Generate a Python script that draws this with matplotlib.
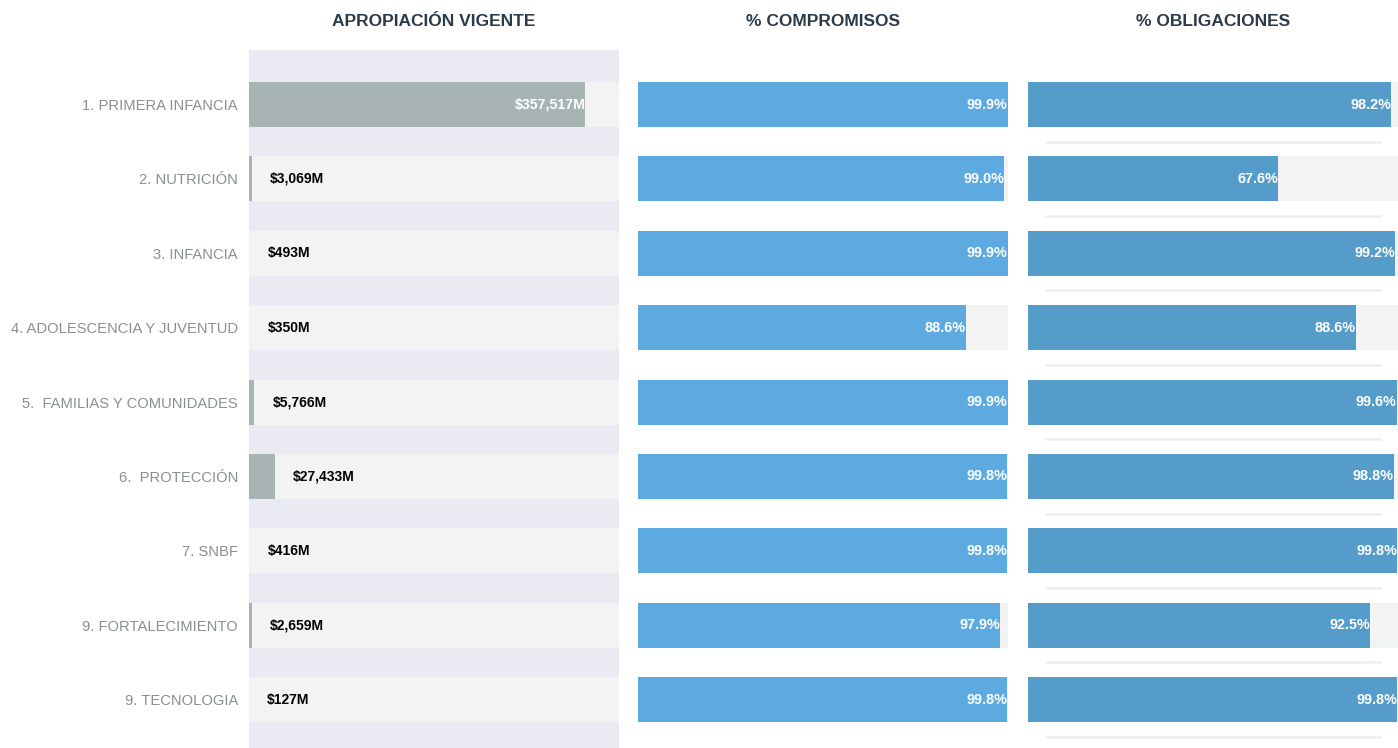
import numpy as np
import matplotlib
matplotlib.use('Agg')
import matplotlib.pyplot as plt

plt.rcParams['font.family'] = ['Liberation Sans', 'DejaVu Sans']

categorias = ['1. PRIMERA INFANCIA', '2. NUTRICIÓN', '3. INFANCIA',
              '4. ADOLESCENCIA Y JUVENTUD', '5.  FAMILIAS Y COMUNIDADES',
              '6.  PROTECCIÓN', '7. SNBF', '9. FORTALECIMIENTO', '9. TECNOLOGIA']
apropiacion = [357517, 3069, 493, 350, 5766, 27433, 416, 2659, 127]  # millones
compromisos = [99.9, 99.0, 99.9, 88.6, 99.9, 99.8, 99.8, 97.9, 99.8]
obligaciones = [98.2, 67.6, 99.2, 88.6, 99.6, 98.8, 99.8, 92.5, 99.8]

W, H = 1398, 748
fig = plt.figure(figsize=(W / 100, H / 100), dpi=100)

band = '#F2F3F3'
n = len(categorias)
y = np.arange(n)
alto = 0.605

def ejes(x0, x1):
    ax = fig.add_axes([x0 / W, 0, (x1 - x0) / W, (H - 50) / H])
    ax.set_ylim(8.652, -0.733)
    for s in ax.spines.values():
        s.set_visible(False)
    ax.set_xticks([])
    ax.set_yticks([])
    return ax

# panel 1
ax1 = ejes(249, 619)
ax1.set_facecolor('#EAEAF2')
xmax1 = max(apropiacion) * 1.1
ax1.set_xlim(0, xmax1)
ax1.barh(y, [xmax1] * n, height=alto, color=band, zorder=1)
ax1.barh(y, apropiacion, height=alto, color='#A8B4B4', zorder=2)
ax1.set_yticks(y)
ax1.set_yticklabels(categorias, fontsize=10.6, color='#8A9090')
ax1.tick_params(axis='y', length=0, pad=8)
for i, v in enumerate(apropiacion):
    txt = '${:,}M'.format(v)
    if v > xmax1 * 0.3:
        ax1.text(v, i, txt, ha='right', va='center', color='white',
                 fontsize=10.2, fontweight='bold', zorder=3)
    else:
        ax1.annotate(txt, (v, i), xytext=(18, 0), textcoords='offset pixels',
                     ha='left', va='center', color='black', fontsize=10,
                     fontweight='bold', zorder=3)

# panel 2 y 3
for x0, vals, col, lineas in [(638, compromisos, '#5DAAE0', False),
                              (1028, obligaciones, '#559CCB', True)]:
    ax = ejes(x0, x0 + 370)
    ax.set_xlim(0, 100)
    ax.barh(y, [100] * n, height=alto, color=band, zorder=1)
    ax.barh(y, vals, height=alto, color=col, zorder=2)
    if lineas:
        for i in range(n):
            ax.plot([4.9, 95.1], [i + 0.5, i + 0.5], color='#EEEEEE', lw=1.8, zorder=1)
    for i, v in enumerate(vals):
        ax.text(v, i, '{:.1f}%'.format(v), ha='right', va='center',
                color='white', fontsize=10.4, fontweight='bold', zorder=3)

titulos = [('APROPIACIÓN VIGENTE', 434), ('% COMPROMISOS', 823), ('% OBLIGACIONES', 1213)]
for t, xc in titulos:
    fig.text(xc / W, 1 - 22 / H, t, ha='center', va='center', fontsize=12.5,
             fontweight='bold', color='#2D3A4A')

fig.savefig('out.png', dpi=100)
